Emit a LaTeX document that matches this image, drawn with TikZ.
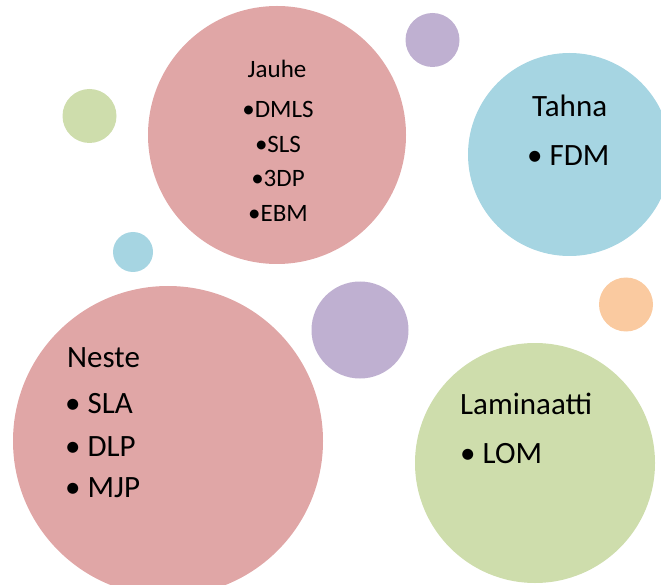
\documentclass[tikz,border=0pt]{standalone}
\usepackage{fontspec}
\setmainfont{Carlito}
\definecolor{cpink}{HTML}{E0A6A6}
\definecolor{cpurple}{HTML}{BFB0D1}
\definecolor{cblue}{HTML}{A6D5E2}
\definecolor{cgreen}{HTML}{CEDDAC}
\definecolor{corange}{HTML}{FACAA0}
\begin{document}
\begin{tikzpicture}[x=1pt,y=-1pt,
  bubble/.style={circle,inner sep=0pt,draw=none,minimum size=#1},
  bigtxt/.style={anchor=base west,inner sep=0pt,font=\fontsize{31}{36}\selectfont},
  smalltxt/.style={anchor=base,inner sep=0pt,font=\fontsize{25}{30}\selectfont}]
\useasboundingbox (0,0) rectangle (661,585);
\clip (0,0) rectangle (661,585);
% circles
\node[bubble=258pt,fill=cpink] (jauhe) at (277,135) {};
\node[bubble=54pt,fill=cpurple] (p1) at (432.5,40) {};
\node[bubble=54pt,fill=cgreen] (g1) at (89.5,116) {};
\node[bubble=203pt,fill=cblue] (tahna) at (569.5,154.5) {};
\node[bubble=40pt,fill=cblue] (b1) at (133,252) {};
\node[bubble=97pt,fill=cpurple] (p2) at (360,330) {};
\node[bubble=54pt,fill=corange] (o1) at (626,304.5) {};
\node[bubble=310pt,fill=cpink] (neste) at (168,441) {};
\node[bubble=240pt,fill=cgreen] (lam) at (535,463) {};
% Jauhe texts
\node[smalltxt] (jt) at (277,78) {Jauhe};
\node[smalltxt] (j1) at (278,118) {•DMLS};
\node[smalltxt] (j2) at (278,153) {•SLS};
\node[smalltxt] (j3) at (278,187) {•3DP};
\node[smalltxt] (j4) at (278,222) {•EBM};
% Tahna texts
\node[bigtxt] (tt) at (532,117) {Tahna};
\node[bigtxt] (t1) at (527,166) {• FDM};
% Neste texts
\node[bigtxt] (nt) at (67,367) {Neste};
\node[bigtxt] (n1) at (65,413) {• SLA};
\node[bigtxt] (n2) at (65,456) {• DLP};
\node[bigtxt] (n3) at (65,497) {• MJP};
% Laminaatti texts
\node[bigtxt] (lt) at (460,414) {Laminaatti};
\node[bigtxt] (l1) at (460,463) {• LOM};
\end{tikzpicture}
\end{document}
